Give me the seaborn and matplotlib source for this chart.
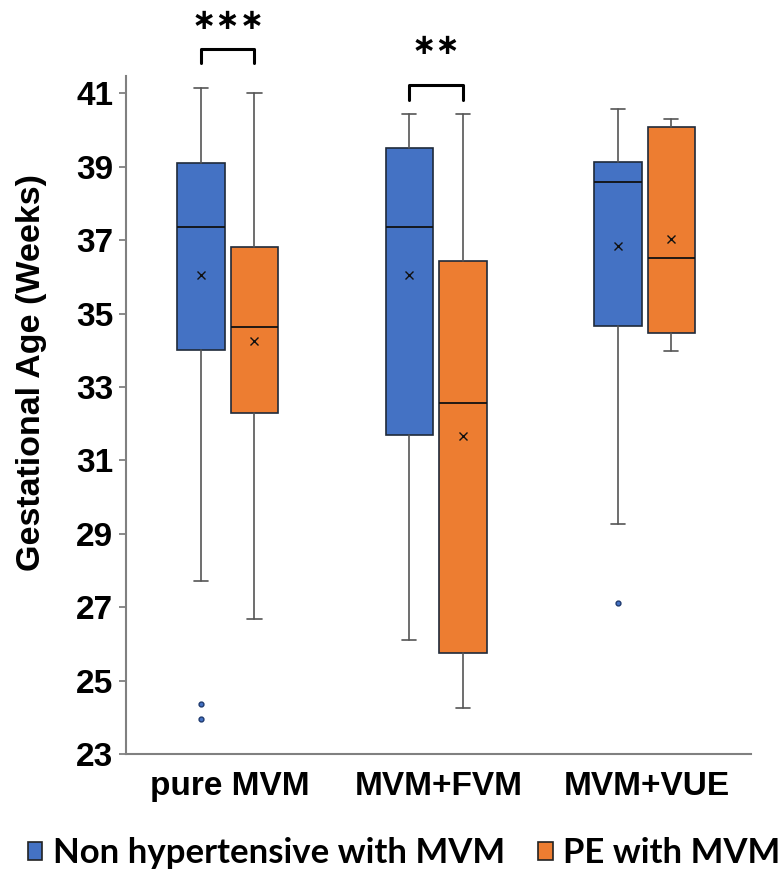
"""
plot.py
gestational age box plots by MVM group, non hypertensive vs PE
"""
import matplotlib
matplotlib.use("Agg")
import matplotlib.pyplot as plt
import matplotlib.patches as mpatches
import seaborn as sns

groups = ["pure MVM", "MVM+FVM", "MVM+VUE"]
series = ["Non hypertensive with MVM", "PE with MVM"]
colors = ["#4472C4", "#ED7D31"]

# box stats (weeks), one list per series, in group order
non_whislo = [27.7, 26.1, 29.26]
non_q1 = [34.0, 31.7, 34.66]
non_med = [37.37, 37.37, 38.57]
non_q3 = [39.1, 39.5, 39.13]
non_whishi = [41.14, 40.44, 40.57]
non_mean = [36.06, 36.04, 36.83]
non_fliers = [[24.37, 23.94], [], [27.11]]

pe_whislo = [26.69, 24.26, 33.99]
pe_q1 = [32.3, 25.76, 34.47]
pe_med = [34.64, 32.56, 36.5]
pe_q3 = [36.8, 36.43, 40.07]
pe_whishi = [41.0, 40.44, 40.31]
pe_mean = [34.25, 31.66, 37.03]
pe_fliers = [[], [], []]

# significance annotations
sig_groups = [0, 1]
sig_labels = ["\u2217\u2217\u2217", "\u2217\u2217"]
sig_levels = [41.82, 40.82]
sig_text_y = [42.97, 42.29]

sns.set_style("white")
plt.rcParams["font.family"] = ["Liberation Sans", "DejaVu Sans"]
plt.rcParams["text.color"] = "black"
plt.rcParams["xtick.color"] = "black"
plt.rcParams["ytick.color"] = "black"
plt.rcParams["axes.labelcolor"] = "black"

fig = plt.figure(figsize=(7.83, 8.75), dpi=100)
ax = fig.add_axes([0.1605, 0.1383, 0.7986, 0.7748])

offsets = [-0.139, 0.118]
width = 0.228


def make_stats(wl, q1, med, q3, wh, mean, fl):
    return [dict(whislo=a, q1=b, med=c, q3=d, whishi=e, mean=f, fliers=g)
            for a, b, c, d, e, f, g in zip(wl, q1, med, q3, wh, mean, fl)]


all_stats = [
    make_stats(non_whislo, non_q1, non_med, non_q3, non_whishi, non_mean, non_fliers),
    make_stats(pe_whislo, pe_q1, pe_med, pe_q3, pe_whishi, pe_mean, pe_fliers),
]

for i, stats in enumerate(all_stats):
    pos = [g + offsets[i] for g in range(len(groups))]
    ax.bxp(stats, positions=pos, widths=width, patch_artist=True,
           showmeans=True, showfliers=True, capwidths=width * 0.3,
           boxprops=dict(facecolor=colors[i], edgecolor="#1f2a3a", linewidth=1.2),
           medianprops=dict(color="#111111", linewidth=1.3),
           whiskerprops=dict(color="#555555", linewidth=1.2),
           capprops=dict(color="#555555", linewidth=1.2),
           meanprops=dict(marker="x", markeredgecolor="#111111", markersize=6,
                          markeredgewidth=1.0),
           flierprops=dict(marker="o", markerfacecolor="#4472C4",
                           markeredgecolor="#1f3a6e", markersize=3.5))

ax.set_xlim(-0.5, 2.5)
ax.set_ylim(23, 41.47)
ax.set_yticks(range(23, 42, 2))
ax.set_yticklabels([str(v) for v in range(23, 42, 2)], fontsize=24, fontweight="bold")
ax.set_xticks(range(len(groups)))
ax.set_xticklabels(groups, fontsize=24, fontweight="bold")
ax.tick_params(axis="x", length=0, pad=12)
ax.set_xticks([0.5, 1.5, 2.5], minor=True)
ax.tick_params(axis="x", which="minor", length=5, color="#808080", width=1.3)
ax.tick_params(axis="y", length=5, color="#808080", width=1.3, pad=4, left=True)
ax.set_ylabel("Gestational Age (Weeks)", fontsize=24.5, fontweight="bold")
ax.yaxis.set_label_coords(-0.126, 0.563)

for side in ["top", "right"]:
    ax.spines[side].set_visible(False)
for side in ["left", "bottom"]:
    ax.spines[side].set_color("#808080")
    ax.spines[side].set_linewidth(1.5)

# significance brackets
for g, lab, lev, ty in zip(sig_groups, sig_labels, sig_levels, sig_text_y):
    x0, x1 = g + offsets[0], g + offsets[1]
    ax.plot([x0, x0, x1, x1], [lev, lev + 0.4, lev + 0.4, lev], color="black",
            linewidth=2.2, clip_on=False)
    ax.text((x0 + x1) / 2, ty, lab, ha="center", va="center",
            fontsize=21, fontweight="bold", family="DejaVu Sans", clip_on=False)

handles = [mpatches.Patch(facecolor=c, edgecolor="#222222", linewidth=1.2, label=s)
           for c, s in zip(colors, series)]
fig.legend(handles=handles, loc="center", bbox_to_anchor=(0.516, 0.025), ncol=2,
           frameon=False, handlelength=0.42, handleheight=0.42, handletextpad=0.3,
           columnspacing=0.95, borderaxespad=0,
           prop=dict(family=["Lato", "DejaVu Sans"], weight="bold", size=25))

fig.savefig("out.png", dpi=100)
